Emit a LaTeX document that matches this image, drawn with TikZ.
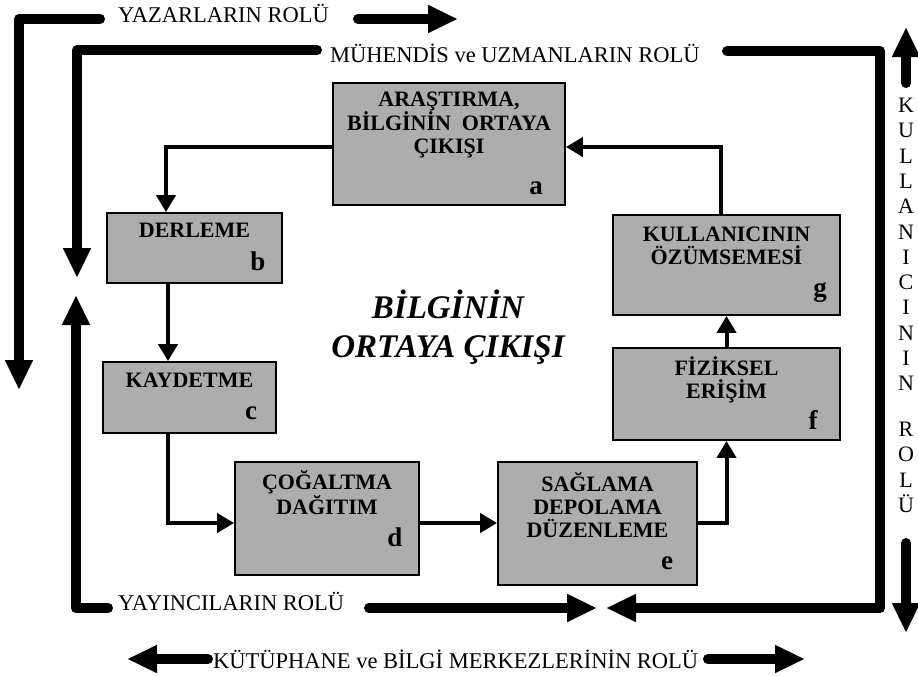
\documentclass[tikz,border=0pt]{standalone}
\usepackage{fontspec}
\setmainfont{Liberation Serif}
\usetikzlibrary{arrows.meta,calc}
\definecolor{boxgray}{gray}{0.68}
\begin{document}
\begin{tikzpicture}[x=1pt,y=-1pt,
  stepbox/.style={draw=black,line width=1.8pt,fill=boxgray,inner sep=0pt},
  boxtext/.style={font=\bfseries\fontsize{22}{23}\selectfont,align=center,inner sep=0pt},
  boxtag/.style={font=\bfseries\fontsize{27}{27}\selectfont,inner sep=0pt},
  rolelabel/.style={font=\fontsize{22.5}{23}\selectfont,inner sep=0pt,anchor=base west},
  vletter/.style={font=\fontsize{22}{22}\selectfont,inner sep=0pt,anchor=base},
  conn/.style={line width=4pt,-{Triangle[length=17pt,width=19pt]}},
  roleline/.style={line width=10pt,line cap=round,line join=round},
  bigarrow/.style={roleline,-{Triangle[length=30pt,width=26pt]}},
]
\useasboundingbox (0,0) rectangle (918,675);

% process boxes
\node[stepbox,minimum width=232pt,minimum height=122pt] (a) at (449,144) {};
\node[boxtext] (ta) at (449,125) {ARAŞTIRMA,\\BİLGİNİN\ \ ORTAYA\\ÇIKIŞI};
\node[boxtag] (la) at (536,188) {a};

\node[stepbox,minimum width=175pt,minimum height=70pt] (b) at (194.5,248) {};
\node[boxtext] (tb) at (194.5,230) {DERLEME};
\node[boxtag] (lb) at (258,261) {b};

\node[stepbox,minimum width=173pt,minimum height=71pt] (c) at (189.5,397.5) {};
\node[boxtext] (tc) at (189.5,380) {KAYDETME};
\node[boxtag] (lc) at (251,413) {c};

\node[stepbox,minimum width=184pt,minimum height=113pt] (d) at (327,518.5) {};
\node[boxtext] (td) at (327,492.5) {ÇOĞALTMA\\DAĞITIM};
\node[boxtag] (ld) at (395,537) {d};

\node[stepbox,minimum width=199pt,minimum height=123pt] (e) at (597.5,523.5) {};
\node[boxtext] (te) at (597.5,505) {SAĞLAMA\\DEPOLAMA\\DÜZENLEME};
\node[boxtag] (le) at (667,563) {e};

\node[stepbox,minimum width=227pt,minimum height=92pt] (f) at (726.5,394) {};
\node[boxtext] (tf) at (726.5,380) {FİZİKSEL\\ERİŞİM};
\node[boxtag] (lf) at (813,420) {f};

\node[stepbox,minimum width=227pt,minimum height=100pt] (g) at (726.5,265) {};
\node[boxtext] (tg) at (726.5,245.5) {KULLANICININ\\ÖZÜMSEMESİ};
\node[boxtag] (lg) at (820,293) {g};

% central title
\node[font=\bfseries\itshape\fontsize{33}{39}\selectfont,align=center,inner sep=0pt] (title) at (448,327.5) {BİLGİNİN\\ORTAYA ÇIKIŞI};

% cycle connectors
\draw[conn] ([yshift=-3pt]a.west) -| ([xshift=-28.5pt]b.north);
\draw[conn] ([xshift=-26.5pt]b.south) -- ([xshift=-26.5pt]b.south |- c.north);
\draw[conn] ([xshift=-21.5pt]c.south) |- ([yshift=-4.5pt]d.west);
\draw[conn] ([yshift=-4.5pt]d.east) -- ([yshift=-4.5pt]d.east -| e.west);
\draw[conn] ([yshift=0.5pt]e.east) -| (f.south);
\draw[conn] (f.north) -- (g.south);
\draw[conn] ([xshift=-6pt]g.north) |- ([yshift=-3pt]a.east);

% role labels
\node[rolelabel] (yaz) at (118,22) {YAZARLARIN ROLÜ};
\node[rolelabel] (muh) at (330,62) {MÜHENDİS ve UZMANLARIN ROLÜ};
\node[rolelabel] (yay) at (118,610) {YAYINCILARIN ROLÜ};
\node[rolelabel] (kut) at (213,668) {KÜTÜPHANE ve BİLGİ MERKEZLERİNİN ROLÜ};

% vertical label on the right
\foreach \ch [count=\i from 0] in {K,U,L,L,A,N,I,C,I,N,I,N}
  \node[vletter] (k\i) at (906,{112.5+25.3*\i}) {\ch};
\foreach \ch/\yy [count=\i from 0] in {R/429,O/454,L/480,Ü/505}
  \node[vletter] (r\i) at (906,\yy+7.5) {\ch};

% role frame points
\coordinate (o1) at (100,19);
\coordinate (o2) at (19,19);
\coordinate (o3) at (19,390);
\coordinate (y1) at (358,19);
\coordinate (y2) at (458,19);
\coordinate (m1) at (317,50);
\coordinate (m2) at (77,50);
\coordinate (m3) at (77,278);
\coordinate (p1) at (108,608);
\coordinate (p2) at (76,608);
\coordinate (p3) at (76,295);
\coordinate (p4) at (369,608);
\coordinate (p5) at (597,608);
\coordinate (q1) at (727,51);
\coordinate (q2) at (880,51);
\coordinate (q3) at (880,608);
\coordinate (q4) at (606,608);
\coordinate (u1) at (906,83);
\coordinate (u2) at (906,27);
\coordinate (u3) at (906,543);
\coordinate (u4) at (906,633);
\coordinate (l1) at (208,659);
\coordinate (l2) at (127,659);
\coordinate (l3) at (708,659);
\coordinate (l4) at (805,659);

% role frame lines
\draw[bigarrow] (o1) -- (o2) -- (o3);
\draw[bigarrow] (y1) -- (y2);
\draw[bigarrow] (m1) -- (m2) -- (m3);
\draw[bigarrow] (p1) -- (p2) -- (p3);
\draw[bigarrow] (p4) -- (p5);
\draw[bigarrow] (q1) -- (q2) -- (q3) -- (q4);
\draw[bigarrow] (u1) -- (u2);
\draw[bigarrow] (u3) -- (u4);
\draw[bigarrow] (l1) -- (l2);
\draw[bigarrow] (l3) -- (l4);
\end{tikzpicture}
\end{document}
